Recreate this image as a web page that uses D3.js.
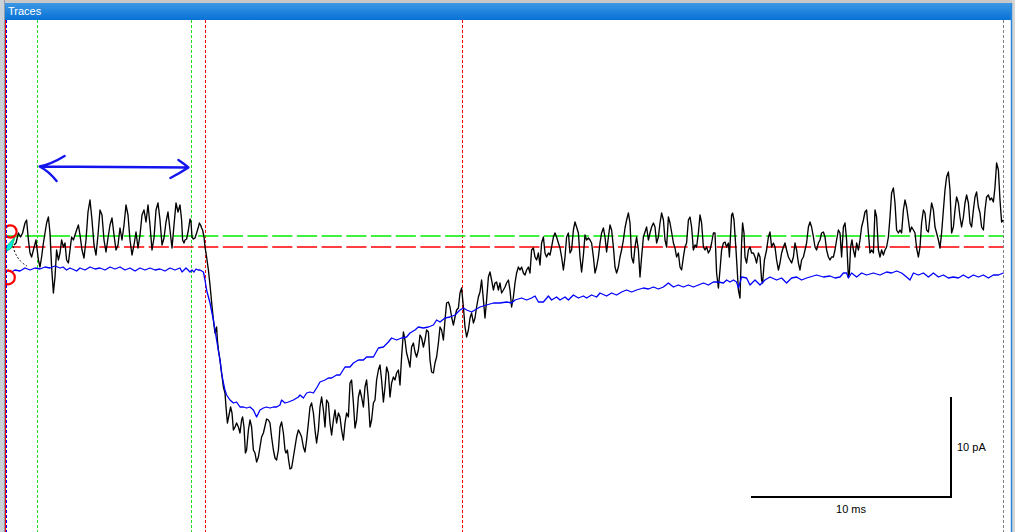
<!DOCTYPE html>
<html><head><meta charset="utf-8">
<script src="https://cdn.jsdelivr.net/npm/d3@7"></script>
<style>
html,body{margin:0;padding:0;background:#fff;overflow:hidden;}
svg{display:block;}
</style></head><body>
<svg id="c" width="1015" height="532"></svg>
<script>
// ---- data (time in ms, current in pA relative to red baseline) ----
const blackTrace = [
[0.70,0.2],[0.80,0.4],[0.92,1.4],[1.03,1.0],[1.13,1.4],[1.25,2.4],[1.33,2.7],[1.42,0.7],[1.50,-0.6],[1.58,-1.0],
[1.67,-0.3],[1.80,0.7],[1.92,-1.3],[2.00,-2.0],[2.08,-1.0],[2.17,0.4],[2.33,2.4],[2.42,3.0],[2.50,1.4],[2.58,-2.0],
[2.67,-4.6],[2.75,-3.0],[2.83,-0.3],[2.92,-1.3],[3.00,-0.6],[3.08,0.7],[3.17,0.0],[3.25,0.4],[3.33,-1.3],[3.42,-1.6],
[3.50,-0.3],[3.58,1.0],[3.67,0.7],[3.83,1.7],[3.92,2.2],[4.00,1.2],[4.10,-0.3],[4.20,-1.1],[4.30,0.7],[4.40,3.5],
[4.50,4.7],[4.60,2.7],[4.70,0.2],[4.80,-0.8],[4.90,1.2],[5.00,3.7],[5.10,3.2],[5.20,0.7],[5.30,-0.5],[5.40,0.9],
[5.50,2.2],[5.60,2.9],[5.70,1.2],[5.80,-0.3],[5.90,0.2],[6.00,1.9],[6.10,0.7],[6.20,2.2],[6.30,4.2],[6.40,3.2],
[6.50,0.7],[6.60,-0.8],[6.70,0.2],[6.80,1.5],[6.90,-0.1],[7.00,1.2],[7.10,3.2],[7.20,3.7],[7.30,2.5],[7.40,4.2],
[7.50,2.2],[7.60,-0.3],[7.70,0.9],[7.80,3.7],[7.90,4.4],[8.00,2.7],[8.10,0.2],[8.20,0.9],[8.30,2.5],[8.40,3.5],
[8.50,1.7],[8.60,-0.1],[8.70,2.2],[8.80,4.4],[8.90,3.5],[9.00,4.2],[9.08,2.7],[9.13,0.7],[9.20,0.4],[9.25,0.7],
[9.33,0.8],[9.42,1.7],[9.50,2.8],[9.55,2.5],[9.60,1.0],[9.67,0.8],[9.75,0.9],[9.83,1.4],[9.92,2.0],[9.97,2.4],
[10.03,2.2],[10.08,1.9],[10.13,1.7],[10.20,1.0],[10.25,0.0],[10.30,-0.6],[10.33,-1.0],[10.42,-2.3],[10.50,-3.8],[10.58,-5.5],
[10.67,-7.3],[10.75,-8.6],[10.83,-8.0],[10.87,-9.3],[10.92,-10.3],[11.00,-11.3],[11.08,-12.6],[11.17,-14.0],[11.25,-14.6],[11.30,-16.0],
[11.37,-17.6],[11.47,-16.6],[11.53,-16.0],[11.60,-16.6],[11.67,-18.3],[11.75,-18.0],[11.83,-17.6],[11.92,-18.0],[12.00,-18.6],[12.08,-17.3],
[12.13,-17.0],[12.20,-18.0],[12.27,-20.6],[12.33,-20.3],[12.42,-18.3],[12.50,-17.3],[12.58,-18.0],[12.67,-20.3],[12.75,-20.6],[12.83,-21.5],
[12.92,-21.0],[13.00,-20.0],[13.08,-19.0],[13.17,-18.6],[13.33,-17.2],[13.42,-17.3],[13.50,-17.6],[13.58,-19.0],[13.67,-20.3],[13.75,-21.1],
[13.83,-21.3],[13.92,-20.3],[14.00,-18.0],[14.08,-17.5],[14.17,-18.6],[14.25,-20.3],[14.30,-20.6],[14.37,-20.3],[14.43,-21.3],[14.50,-22.2],
[14.58,-22.1],[14.67,-21.0],[14.75,-20.0],[14.83,-19.0],[14.92,-18.3],[15.00,-18.6],[15.08,-19.0],[15.17,-20.0],[15.25,-20.5],[15.33,-19.3],
[15.42,-17.6],[15.50,-16.0],[15.58,-15.6],[15.67,-16.6],[15.75,-18.3],[15.83,-19.6],[15.92,-18.3],[16.00,-16.0],[16.08,-15.0],[16.17,-16.3],
[16.25,-18.0],[16.33,-15.3],[16.42,-15.6],[16.50,-17.6],[16.58,-18.8],[16.67,-17.3],[16.75,-16.3],[16.83,-17.6],[16.92,-16.6],[17.00,-17.0],
[17.08,-18.3],[17.17,-19.3],[17.25,-17.6],[17.33,-16.6],[17.42,-17.0],[17.50,-13.6],[17.58,-13.3],[17.67,-15.6],[17.75,-18.1],[17.83,-17.3],
[17.92,-15.0],[18.00,-14.3],[18.08,-15.0],[18.17,-16.0],[18.25,-14.0],[18.33,-13.3],[18.42,-15.3],[18.50,-18.0],[18.58,-17.3],[18.67,-15.6],
[18.75,-15.3],[18.83,-13.3],[18.92,-12.3],[19.00,-11.8],[19.08,-13.3],[19.17,-15.5],[19.25,-14.0],[19.33,-12.0],[19.42,-12.6],[19.50,-15.0],
[19.58,-13.6],[19.67,-13.0],[19.75,-13.3],[19.83,-12.6],[19.92,-12.3],[20.00,-13.8],[20.08,-11.0],[20.17,-8.5],[20.25,-9.3],[20.33,-10.6],
[20.42,-11.3],[20.50,-12.0],[20.58,-10.0],[20.67,-9.6],[20.75,-10.5],[20.83,-11.0],[20.92,-10.3],[21.00,-8.8],[21.08,-9.1],[21.17,-10.0],
[21.25,-9.3],[21.33,-8.3],[21.42,-8.5],[21.50,-11.3],[21.58,-12.5],[21.67,-12.6],[21.75,-11.6],[21.83,-11.0],[21.92,-9.6],[22.00,-8.0],
[22.08,-8.3],[22.17,-9.3],[22.25,-7.3],[22.33,-5.6],[22.42,-5.5],[22.50,-6.0],[22.58,-7.0],[22.67,-7.8],[22.75,-7.0],[22.83,-6.3],
[22.92,-6.1],[23.00,-4.6],[23.08,-4.1],[23.17,-6.0],[23.25,-8.0],[23.33,-9.0],[23.42,-8.3],[23.50,-7.1],[23.58,-6.6],[23.67,-7.6],
[23.75,-7.1],[23.83,-6.0],[23.92,-5.0],[24.00,-4.5],[24.08,-3.3],[24.17,-5.3],[24.25,-7.1],[24.33,-5.3],[24.42,-3.0],[24.50,-2.5],
[24.58,-3.3],[24.67,-4.3],[24.75,-3.6],[24.83,-3.5],[24.92,-4.3],[25.00,-3.6],[25.08,-4.6],[25.17,-4.3],[25.25,-4.0],[25.33,-3.6],
[25.42,-3.3],[25.50,-4.3],[25.58,-6.0],[25.67,-5.0],[25.75,-3.6],[25.83,-2.6],[25.92,-2.0],[26.00,-2.3],[26.08,-2.0],[26.17,-2.6],
[26.25,-2.8],[26.33,-2.3],[26.42,-2.0],[26.50,-2.6],[26.58,-0.3],[26.67,-0.1],[26.75,-1.0],[26.83,-1.3],[26.92,-0.6],[27.00,-1.8],
[27.08,0.4],[27.17,1.0],[27.25,-0.6],[27.33,-1.0],[27.42,-0.6],[27.50,-0.8],[27.58,0.0],[27.67,1.0],[27.75,1.4],[27.83,1.0],
[27.92,0.4],[28.00,-0.1],[28.08,-1.0],[28.17,-2.3],[28.25,-1.0],[28.33,1.0],[28.42,1.4],[28.50,-0.6],[28.58,-0.3],[28.67,1.7],
[28.75,2.5],[28.83,2.0],[28.92,1.4],[29.00,-1.0],[29.08,-2.5],[29.17,-0.8],[29.25,1.2],[29.33,0.7],[29.42,0.9],[29.50,0.7],
[29.58,0.4],[29.67,-1.0],[29.75,-2.6],[29.83,-2.0],[29.92,-1.0],[30.00,0.4],[30.08,1.4],[30.17,1.9],[30.25,1.0],[30.33,-0.5],
[30.42,1.0],[30.50,2.2],[30.58,1.7],[30.67,0.0],[30.75,-2.0],[30.83,-2.6],[30.92,-2.0],[31.00,-1.0],[31.08,-0.3],[31.17,0.7],
[31.25,1.9],[31.33,2.7],[31.42,3.4],[31.50,2.4],[31.58,-1.0],[31.67,-1.6],[31.75,0.0],[31.83,1.0],[31.92,-0.3],[32.00,-3.0],
[32.08,-1.0],[32.17,1.0],[32.25,1.5],[32.33,2.0],[32.42,0.7],[32.50,1.4],[32.58,2.0],[32.67,2.4],[32.75,2.0],[32.83,0.4],
[32.92,1.0],[33.00,2.4],[33.08,3.4],[33.17,2.7],[33.25,0.7],[33.33,0.0],[33.42,3.0],[33.50,2.4],[33.58,1.5],[33.67,0.4],
[33.75,-0.1],[33.83,-1.0],[33.92,-0.6],[34.00,-2.0],[34.08,-2.3],[34.17,-1.0],[34.25,0.0],[34.33,0.4],[34.42,2.7],[34.50,3.0],
[34.58,2.0],[34.67,-0.3],[34.75,0.2],[34.83,0.0],[34.92,1.4],[35.00,3.2],[35.08,2.4],[35.17,0.0],[35.25,-0.3],[35.33,0.0],
[35.42,-0.6],[35.50,-0.3],[35.58,0.4],[35.67,1.4],[35.75,1.4],[35.83,-2.6],[35.92,-4.1],[36.00,-2.3],[36.08,-0.3],[36.17,0.4],
[36.25,0.5],[36.33,0.0],[36.42,0.4],[36.47,-1.0],[36.58,3.2],[36.63,3.4],[36.70,2.7],[36.80,-0.3],[36.92,-4.3],[37.00,-5.1],
[37.08,0.4],[37.13,2.4],[37.20,1.4],[37.25,-1.0],[37.33,-1.6],[37.42,-0.3],[37.50,0.0],[37.58,-0.6],[37.67,-0.6],[37.75,-1.0],
[37.83,-1.6],[37.92,-0.6],[38.00,-1.0],[38.08,-3.3],[38.13,-3.6],[38.22,-1.3],[38.33,-0.3],[38.42,1.0],[38.50,1.5],[38.58,0.0],
[38.67,0.4],[38.75,0.0],[38.83,-1.3],[38.92,-2.3],[39.00,-1.6],[39.08,-0.6],[39.17,0.0],[39.25,0.4],[39.33,-0.3],[39.42,-1.0],
[39.50,-1.3],[39.58,-1.6],[39.67,-1.0],[39.75,0.4],[39.83,-0.3],[39.92,-1.6],[40.00,-2.3],[40.08,-1.3],[40.17,-1.0],[40.25,-0.3],
[40.33,0.4],[40.42,2.0],[40.50,2.5],[40.58,2.0],[40.67,1.0],[40.75,0.0],[40.83,-0.3],[40.92,0.4],[41.00,0.7],[41.08,1.4],
[41.17,1.5],[41.25,1.0],[41.33,-0.3],[41.42,-1.0],[41.50,-1.3],[41.58,-1.0],[41.67,-1.0],[41.75,-0.3],[41.83,0.7],[41.92,1.7],
[42.00,1.4],[42.08,-1.0],[42.17,2.0],[42.25,2.4],[42.33,0.7],[42.42,-3.0],[42.47,-2.6],[42.53,0.0],[42.60,0.7],[42.67,-0.3],
[42.75,-1.0],[42.83,0.4],[42.92,-0.3],[43.00,0.7],[43.08,2.0],[43.17,2.7],[43.25,3.5],[43.33,3.7],[43.42,1.4],[43.50,-0.6],
[43.58,-0.3],[43.67,-0.6],[43.75,3.7],[43.83,3.0],[43.92,-0.3],[44.00,-1.0],[44.08,-0.3],[44.17,-0.8],[44.25,-0.3],[44.33,0.0],
[44.42,1.0],[44.50,3.0],[44.58,5.4],[44.67,5.9],[44.75,4.4],[44.83,1.7],[44.92,1.4],[45.00,1.7],[45.08,1.4],[45.17,3.7],
[45.25,4.7],[45.33,4.0],[45.42,2.7],[45.50,1.5],[45.58,2.0],[45.67,1.7],[45.75,1.4],[45.83,-0.1],[45.92,-1.0],[46.00,0.0],
[46.08,2.4],[46.17,3.7],[46.25,3.4],[46.33,1.7],[46.42,1.5],[46.50,3.0],[46.58,4.4],[46.67,3.7],[46.75,2.0],[46.83,1.4],
[46.92,0.7],[47.00,-0.1],[47.08,1.4],[47.17,3.7],[47.25,5.7],[47.33,7.0],[47.42,7.5],[47.50,5.7],[47.58,1.4],[47.67,2.0],
[47.75,3.7],[47.83,5.0],[47.92,4.4],[48.00,3.0],[48.08,2.0],[48.17,3.0],[48.25,4.4],[48.33,5.2],[48.42,4.4],[48.50,2.4],
[48.58,2.0],[48.67,3.7],[48.75,5.0],[48.83,5.5],[48.92,4.0],[49.00,3.4],[49.08,2.0],[49.17,1.7],[49.25,3.7],[49.33,5.0],
[49.42,5.2],[49.50,4.7],[49.58,4.9],[49.67,4.5],[49.75,6.0],[49.83,8.4],[49.92,7.7],[50.00,4.7],[50.08,2.5],[50.17,2.7]
];
const blueTrace = [
[0.40,-2.3],[0.58,-2.5],[0.75,-2.3],[1.00,-2.4],[1.25,-2.1],[1.50,-2.3],[1.75,-2.1],[2.00,-2.2],[2.25,-2.0],[2.50,-2.1],
[2.75,-1.9],[3.00,-2.1],[3.15,-2.0],[3.33,-2.3],[3.50,-2.1],[3.83,-2.4],[4.00,-2.1],[4.25,-2.3],[4.50,-2.0],[4.75,-2.2],
[5.00,-2.1],[5.25,-2.3],[5.50,-2.0],[5.75,-2.2],[6.00,-2.0],[6.25,-2.3],[6.50,-2.1],[6.75,-2.4],[7.00,-2.1],[7.25,-2.3],
[7.50,-2.1],[7.75,-2.3],[8.00,-2.2],[8.25,-2.4],[8.50,-2.1],[8.75,-2.3],[9.00,-2.1],[9.10,-2.5],[9.20,-2.3],[9.30,-2.1],
[9.40,-2.3],[9.50,-2.5],[9.60,-2.3],[9.70,-2.5],[9.80,-2.2],[9.90,-2.3],[10.00,-2.3],[10.17,-2.5],[10.25,-3.3],[10.33,-4.3],
[10.50,-5.6],[10.67,-7.3],[10.83,-9.3],[11.00,-11.3],[11.08,-12.6],[11.17,-13.6],[11.25,-14.3],[11.33,-14.8],[11.50,-15.3],[11.67,-15.6],
[11.83,-15.5],[12.00,-16.0],[12.17,-16.0],[12.33,-16.1],[12.50,-16.0],[12.67,-16.3],[12.83,-17.0],[13.00,-16.3],[13.17,-16.1],[13.33,-16.0],
[13.50,-16.1],[13.67,-16.0],[13.83,-16.0],[14.00,-15.8],[14.08,-15.3],[14.25,-15.6],[14.42,-15.5],[14.67,-15.3],[14.92,-15.0],[15.00,-14.8],
[15.17,-15.1],[15.33,-14.6],[15.50,-14.5],[15.67,-14.6],[15.83,-14.1],[16.00,-13.5],[16.25,-13.3],[16.42,-13.1],[16.58,-13.1],[16.83,-12.8],
[17.00,-12.8],[17.25,-12.0],[17.50,-12.0],[17.67,-11.6],[17.92,-11.3],[18.17,-11.3],[18.33,-11.0],[18.67,-11.0],[18.92,-10.1],[19.17,-10.0],
[19.42,-9.5],[19.58,-9.1],[19.83,-9.3],[20.08,-9.1],[20.33,-9.0],[20.50,-8.6],[20.75,-8.3],[20.92,-8.0],[21.17,-8.1],[21.42,-8.0],
[21.67,-7.8],[21.83,-7.3],[22.00,-7.5],[22.25,-7.1],[22.50,-7.0],[22.75,-6.8],[23.00,-6.3],[23.17,-6.1],[23.33,-6.3],[23.58,-6.5],
[23.83,-6.2],[24.00,-6.0],[24.33,-5.8],[24.67,-5.6],[25.00,-5.6],[25.33,-5.5],[25.58,-5.6],[25.75,-5.3],[26.08,-5.1],[26.33,-5.3],
[26.58,-5.1],[26.75,-4.9],[26.92,-5.5],[27.17,-5.5],[27.42,-4.9],[27.58,-5.3],[27.83,-5.0],[28.00,-5.3],[28.25,-5.0],[28.42,-5.3],
[28.67,-4.8],[28.92,-5.1],[29.17,-4.9],[29.33,-5.1],[29.58,-4.8],[29.83,-5.0],[30.00,-4.6],[30.33,-4.9],[30.58,-4.6],[30.83,-4.8],
[31.08,-4.5],[31.33,-4.3],[31.58,-4.5],[31.83,-4.3],[32.17,-4.1],[32.42,-4.2],[32.67,-4.0],[32.92,-4.2],[33.17,-4.0],[33.42,-3.6],
[33.67,-4.0],[33.92,-3.8],[34.17,-4.0],[34.42,-3.8],[34.67,-4.0],[34.92,-3.8],[35.17,-3.6],[35.42,-3.8],[35.67,-3.5],[35.92,-3.5],
[36.17,-3.6],[36.33,-3.3],[36.50,-3.5],[36.67,-3.3],[36.83,-3.5],[36.92,-4.1],[37.08,-3.0],[37.33,-3.1],[37.50,-3.8],[37.75,-3.3],
[38.00,-3.8],[38.25,-3.3],[38.50,-3.0],[38.83,-3.3],[39.08,-3.1],[39.33,-3.6],[39.58,-3.1],[39.83,-3.0],[40.08,-3.3],[40.33,-3.1],
[40.50,-3.0],[40.83,-2.8],[41.17,-3.0],[41.50,-2.9],[41.75,-3.1],[42.00,-3.0],[42.17,-2.6],[42.33,-2.6],[42.42,-3.1],[42.58,-2.6],
[42.83,-3.0],[43.08,-2.6],[43.33,-2.8],[43.67,-2.6],[44.00,-2.8],[44.33,-2.5],[44.58,-2.6],[44.83,-2.4],[45.08,-2.6],[45.33,-3.0],
[45.50,-3.3],[45.67,-2.6],[45.92,-2.8],[46.17,-2.6],[46.42,-3.0],[46.67,-2.6],[46.92,-3.0],[47.17,-2.8],[47.42,-3.1],[47.67,-3.0],
[47.92,-3.1],[48.17,-2.8],[48.42,-3.1],[48.67,-2.8],[48.92,-3.0],[49.17,-2.8],[49.42,-3.1],[49.67,-2.8],[49.92,-2.8],[50.17,-2.6]
];
const greenCursors = [1.85, 9.55];     // ms
const redCursors = [10.25, 23.1];      // ms
const endCursors = [50.15];            // ms
const greenLevel = 1.1;                // pA
const redLevel = 0.0;                  // pA
const baselineSpan = [1.98, 9.42];     // ms (double arrow)
const baselineArrowLevel = 8.0;        // pA
const scaleBar = {t0: 37.55, ms: 10, i0: -25, pA: 10};
const scaleLabels = ["10 ms", "10 pA"];
const titleText = "Traces";

// ---- drawing ----
const W = 1015, H = 532;
const svg = d3.select("#c");
const x = d3.scaleLinear().domain([0, 50.75]).range([0, W]);
const y = d3.scaleLinear().domain([24.7, -28.5]).range([0, H]);
const crisp = v => Math.round(v) + 0.5;

const defs = svg.append("defs");
const grad = defs.append("linearGradient").attr("id","tb").attr("x1",0).attr("y1",0).attr("x2",0).attr("y2",1);
grad.append("stop").attr("offset","0%").attr("stop-color","#3d98e4");
grad.append("stop").attr("offset","100%").attr("stop-color","#0671d6");
defs.append("clipPath").attr("id","plot").append("rect").attr("x",6).attr("y",20).attr("width",1005).attr("height",H-20);
defs.append("clipPath").attr("id","mk").append("rect").attr("x",6).attr("y",20).attr("width",30).attr("height",H-20);

svg.append("rect").attr("width",W).attr("height",H).attr("fill","#fff");

const plot = svg.append("g").attr("clip-path","url(#plot)");

// vertical cursors
plot.selectAll(".gc").data(greenCursors).join("line")
  .attr("x1",d=>crisp(x(d))).attr("x2",d=>crisp(x(d))).attr("y1",20).attr("y2",H)
  .attr("stroke","#22dd22").attr("stroke-width",1).attr("stroke-dasharray","3,2");
plot.selectAll(".rc").data(redCursors).join("line")
  .attr("x1",d=>crisp(x(d))).attr("x2",d=>crisp(x(d))).attr("y1",20).attr("y2",H)
  .attr("stroke","#ff0000").attr("stroke-width",1).attr("stroke-dasharray","3,2");
plot.selectAll(".ec").data(endCursors).join("line")
  .attr("x1",d=>crisp(x(d))).attr("x2",d=>crisp(x(d))).attr("y1",20).attr("y2",H)
  .attr("stroke","#808080").attr("stroke-width",1).attr("stroke-dasharray","3,2");

// horizontal levels
const lvl = [{v:greenLevel,c:"#00ee00"},{v:redLevel,c:"#ff0000"}];
plot.selectAll(".lv").data(lvl).join("line")
  .attr("x1",7).attr("x2",x(endCursors[0])).attr("y1",d=>y(d.v)).attr("y2",d=>y(d.v))
  .attr("stroke",d=>d.c).attr("stroke-width",1.6)
  .attr("stroke-dasharray","20.2,4.5").attr("stroke-dashoffset",6.5);

const line = d3.line().x(d=>x(d[0])).y(d=>y(d[1]));
plot.append("path").datum(blackTrace).attr("d",line)
  .attr("fill","none").attr("stroke","#000").attr("stroke-width",1.35).attr("stroke-linejoin","round");
plot.append("path").datum(blueTrace).attr("d",line)
  .attr("fill","none").attr("stroke","#0000ff").attr("stroke-width",1.3).attr("stroke-linejoin","round");

// double arrow
const ax0 = x(baselineSpan[0]), ax1 = x(baselineSpan[1]), ay = y(baselineArrowLevel);
plot.append("path")
  .attr("d",`M${ax0},${ay-0.5}L${ax1},${ay+0.5}`
    +`M${ax0+25},${ay-11}Q${ax0+12},${ay-3} ${ax0},${ay-0.5}Q${ax0+9},${ay+4} ${ax0+17},${ay+14}`
    +`M${ax1-10},${ay-7}Q${ax1-4},${ay-3} ${ax1},${ay+0.5}Q${ax1-10},${ay+7} ${ax1-18},${ay+11}`)
  .attr("fill","none").attr("stroke","#1414ee").attr("stroke-width",2.4)
  .attr("stroke-linecap","round").attr("stroke-linejoin","round");

// left markers
const mk = svg.append("g").attr("clip-path","url(#mk)");
mk.append("path").attr("d",`M6,${y(0.0)}L15,${y(1.0)}L11.5,${y(-0.1)}L7,${y(-0.4)}Z`)
  .attr("fill","#00e8e8").attr("stroke","#00cc66").attr("stroke-width",1);
mk.append("circle").attr("cx",x(0.52)).attr("cy",y(1.55)).attr("r",6.2)
  .attr("fill","none").attr("stroke","#ff0000").attr("stroke-width",2.2);
mk.append("circle").attr("cx",x(0.4)).attr("cy",y(-3.05)).attr("r",6.8)
  .attr("fill","none").attr("stroke","#ff0000").attr("stroke-width",2.2);
mk.append("path").attr("d",`M13,${y(0.1)}Q16,${y(-1.3)} 27,${y(-1.9)}`)
  .attr("fill","none").attr("stroke","#000").attr("stroke-width",1).attr("stroke-dasharray","2,2");

// scale bar
const sx0 = x(scaleBar.t0), sx1 = x(scaleBar.t0 + scaleBar.ms);
const sy0 = y(scaleBar.i0), sy1 = y(scaleBar.i0 + scaleBar.pA);
svg.append("path").attr("d",`M${sx0},${sy0}H${sx1}V${sy1}`)
  .attr("fill","none").attr("stroke","#000").attr("stroke-width",2);
svg.append("text").attr("x",(sx0+sx1)/2).attr("y",sy0+16).attr("text-anchor","middle")
  .attr("font-family","Liberation Sans, Arial, sans-serif").attr("font-size",11).attr("fill","#000")
  .text(scaleLabels[0]);
svg.append("text").attr("x",sx1+6).attr("y",(sy0+sy1)/2+4)
  .attr("font-family","Liberation Sans, Arial, sans-serif").attr("font-size",11).attr("fill","#000")
  .text(scaleLabels[1]);

// window frame
svg.append("rect").attr("x",0).attr("y",0).attr("width",W).attr("height",3).attr("fill","#c8c8c8");
svg.append("rect").attr("x",0).attr("y",0).attr("width",4).attr("height",H).attr("fill","#c9d1d9");
svg.append("line").attr("x1",4.5).attr("x2",4.5).attr("y1",0).attr("y2",H).attr("stroke","#8c9cac");
svg.append("line").attr("x1",5.5).attr("x2",5.5).attr("y1",20).attr("y2",H).attr("stroke","#ff0000");
svg.append("line").attr("x1",6.5).attr("x2",6.5).attr("y1",20).attr("y2",H).attr("stroke","#0000ff").attr("stroke-dasharray","3,2");
svg.append("rect").attr("x",5).attr("y",3).attr("width",1006).attr("height",17).attr("fill","url(#tb)");
svg.append("rect").attr("x",1012).attr("y",0).attr("width",3).attr("height",H).attr("fill","#d6d6d6");
svg.append("line").attr("x1",1011.5).attr("x2",1011.5).attr("y1",3).attr("y2",H).attr("stroke","#2a86de").attr("stroke-width",1.5);
svg.append("text").attr("x",8).attr("y",14.5)
  .attr("font-family","Liberation Sans, Arial, sans-serif").attr("font-size",11).attr("fill","#fff")
  .text(titleText);
</script>
</body></html>
